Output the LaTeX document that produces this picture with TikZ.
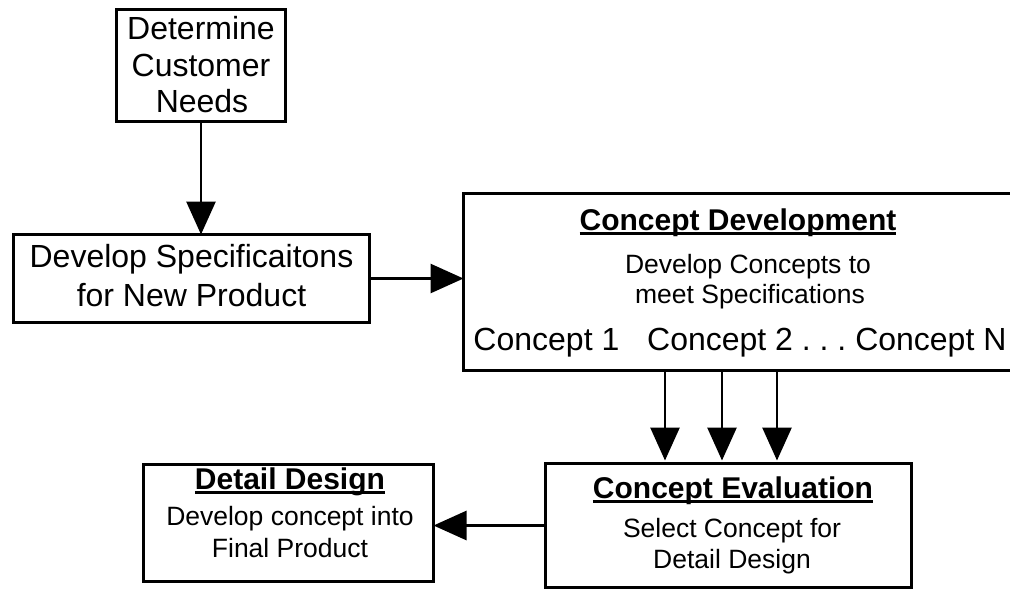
\documentclass[tikz,border=0pt]{standalone}
\usepackage{fontspec}
\setmainfont{Liberation Sans}
\usetikzlibrary{arrows.meta}

% bold heading with a heavy underline
\newcommand\headul[1]{\setbox0\hbox{\bfseries #1}\rlap{\rule[-4.5pt]{\wd0}{2.6pt}}\box0}

\begin{document}
\begin{tikzpicture}[x=1pt,y=-1pt,
  box/.style={draw, line width=2.8pt, inner sep=0pt, outer sep=0pt},
  txt/.style={anchor=base, inner sep=0pt, font=\fontsize{32}{36}\selectfont},
  head/.style={anchor=base, inner sep=0pt, font=\fontsize{30}{34}\selectfont},
  sub/.style={anchor=base, inner sep=0pt, font=\fontsize{26.5}{30}\selectfont},
  arr/.style={line width=2.8pt, -{Triangle[length=33pt,width=29pt]}}]

\useasboundingbox (0,0) rectangle (1010,592);

% boxes
\node[box, minimum width=169pt, minimum height=112pt] (need)   at (201,65.5)   {};
\node[box, minimum width=356pt, minimum height=88pt]  (spec)   at (191.5,278.5) {};
\node[box, minimum width=577pt, minimum height=177pt] (dev)    at (752,282)    {};
\node[box, minimum width=366pt, minimum height=124pt] (eval)   at (728.5,525.5) {};
\node[box, minimum width=290pt, minimum height=117pt] (detail) at (288.5,523)  {};

% texts
\node[txt] (need1) at (201,39)  {Determine};
\node[txt] (need2) at (201,76)  {Customer};
\node[txt] (need3) at (202,112) {Needs};

\node[txt] (spec1) at (191.5,267) {Develop Specificaitons};
\node[txt] (spec2) at (191.5,306) {for New Product};

\node[head] (devh)  at (738,230) {\headul{Concept Development}};
\node[sub]  (dev1)  at (748,273) {Develop Concepts to};
\node[sub]  (dev2)  at (750,303) {meet Specifications};
\node[txt]  (dev3)  at (740,350) {Concept 1\hspace{0.87em}Concept 2 .\ .\ .\ Concept N};

\node[head] (evalh) at (733,498) {\headul{Concept Evaluation}};
\node[sub]  (eval1) at (732,537) {Select Concept for};
\node[sub]  (eval2) at (732,568) {Detail Design};

\node[head] (deth)  at (290,489) {\headul{Detail Design}};
\node[sub]  (det1)  at (290,525) {Develop concept into};
\node[sub]  (det2)  at (290,557) {Final Product};

% connectors
\coordinate (d1) at (665,370);
\coordinate (d2) at (722,370);
\coordinate (d3) at (777,370);

\draw[arr] (need.south) -- (need.south |- spec.north);
\draw[arr] (spec.east) -- (spec.east -| dev.west);
\draw[arr, shorten >=3pt] (d1 |- dev.south) -- (d1 |- eval.north);
\draw[arr, shorten >=3pt] (d2 |- dev.south) -- (d2 |- eval.north);
\draw[arr, shorten >=3pt] (d3 |- dev.south) -- (d3 |- eval.north);
\draw[arr] (eval.west) -- (eval.west -| detail.east);
\end{tikzpicture}
\end{document}
